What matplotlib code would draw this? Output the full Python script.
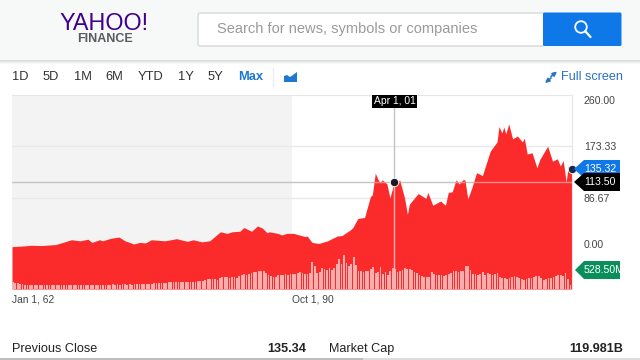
import numpy as np
import matplotlib
matplotlib.use("Agg")
import matplotlib.pyplot as plt
from matplotlib.patches import Rectangle, Polygon, Circle, FancyBboxPatch

plt.rcParams['font.family'] = ['Liberation Sans', 'DejaVu Sans']

# ---- data ----
price_dates = [1962.0,1962.9,1964.0,1965.0,1966.5,1967.4,1968.1,1969.0,1969.8,1970.2,1971.0,1971.3,1972.2,1973.0,1973.6,
 1974.5,1975.1,1975.7,1976.3,1977.7,1978.9,1980.0,1980.6,1981.5,1982.3,1983.4,1984.1,1984.6,1985.4,1985.8,
 1986.6,1987.2,1987.7,1988.2,1988.4,1989.3,1989.7,1990.2,1990.9,1991.1,1992.1,1992.3,1992.8,1993.5,1994.4,
 1995.4,1995.9,1996.2,1996.7,1997.0,1997.5,1998.2,1998.8,1999.0,1999.3,1999.6,1999.8,2000.0,2000.5,2000.8,
 2001.2,2001.4,2001.8,2002.3,2002.6,2002.8,2003.7,2004.5,2004.7,2005.2,2006.0,2006.5,2006.8,2007.2,2007.6,
 2007.9,2008.3,2008.5,2008.8,2009.2,2009.7,2010.3,2011.1,2011.8,2012.0,2012.3,2012.5,2012.7,2013.0,2013.4,
 2013.9,2014.4,2014.6,2014.9,2015.4,2015.9,2016.2,2017.0,2017.5,2018.0,2018.3,2018.6,2018.9,2019.1,2019.5]
prices = [-5,-4,-2.4,-3,-1,4,8,6,9,3,8,6,11,13,6,
 0,3,2,8,6,10,5,8,4,6,23,20,23,24,31,
 24,34,30,21,23,20,17,20,20,19,14,15,3,1,6,
 15,16,20,26,31,48,50,89,92,128,117,112,117,110,87,
 110,107,117,87,56,75,94,86,96,73,81,73,96,97,117,
 110,117,117,85,103,129,124,164.5,181,210,198,209,196,215,187,
 192,181,188,160,162,137,151,173,148,152,140,149,113,139,135]
volume_start = 1962.0
volume_step = 0.25
volumes = [195,190,170,150,135,125,120,118,118,118,
 118,118,118,120,118,118,120,118,118,118,
 118,118,120,118,120,122,118,120,118,120,
 120,122,125,120,125,130,125,130,128,130,
 130,135,130,135,130,135,135,130,135,130,
 135,140,145,140,150,150,155,150,165,170,
 175,180,185,190,200,210,205,205,215,210,
 205,210,205,215,220,220,225,230,240,260,
 280,300,300,290,275,320,360,350,340,330,
 350,340,320,370,400,430,400,450,470,500,
 510,520,530,540,470,420,390,360,350,400,
 420,410,440,420,430,450,430,480,500,470,
 440,450,470,794,680,470,500,620,590,560,
 620,560,620,740,880,740,1000,765,680,740,
 940,705,530,530,500,530,530,590,650,470,
 500,650,440,500,410,530,620,590,500,530,
 560,620,590,590,560,500,470,400,380,350,
 350,360,500,440,410,410,400,380,400,440,
 470,530,530,510,530,530,680,680,560,440,
 440,410,440,500,400,470,440,420,440,470,
 350,320,330,295,330,350,380,350,330,290,
 265,300,320,325,350,370,380,310,265,290,
 320,325,350,380,410,400,380,470,300,118]
y_ticks = [260.00, 173.33, 86.67, 0.00]
y_tick_labels = ['260.00', '173.33', '86.67', '0.00']
x_ticks = [1962.0, 1990.75]
x_tick_labels = ['Jan 1, 62', 'Oct 1, 90']
range_tabs = ['1D', '5D', '1M', '6M', 'YTD', '1Y', '5Y']
cursor_date = 2001.25
cursor_price = 113.50
last_price = 135.32

# ---- style / layout ----
RED = '#fb2b2b'
BLUE = '#0f78e8'
LINK = '#2a72c4'
scale_prices = [-84.8, 0, 86.67, 173.33, 260, 269.4]
scale_levels = [0, 45, 91, 143, 189, 194]
x_left, x_right = 1962.0, 2019.5
vol_top = 5704

fig = plt.figure(figsize=(6.4, 3.6), dpi=100, facecolor='white')
bg = fig.add_axes([0, 0, 1, 1])
bg.set_xlim(0, 640); bg.set_ylim(360, 0); bg.axis('off')

# header
bg.add_patch(Rectangle((0, 0), 640, 60, fc='#f7f8f8', ec='none'))
for y, c in zip([60, 61, 62, 63], ['#d9dbdb', '#e3e5e5', '#eeefef', '#f8f8f8']):
    bg.add_patch(Rectangle((0, y), 640, 1, fc=c, ec='none'))
bg.text(104, 23, 'YAHOO!', color='#400090', fontsize=16.8, ha='center', va='center')
bg.text(105, 39.5, 'FINANCE', color='#5a5a60', fontsize=9, fontweight='bold', ha='center', va='center')
bg.add_patch(FancyBboxPatch((198, 13), 346, 33, boxstyle='round,pad=0,rounding_size=2', fc='white', ec='#d8d8d8', lw=1))
bg.text(217, 28.8, 'Search for news, symbols or companies', color='#9a9a9a', fontsize=10.5, va='center')
bg.add_patch(FancyBboxPatch((543, 12.5), 78.5, 33.5, boxstyle='round,pad=0,rounding_size=1.5', fc=BLUE, ec='none'))
bg.add_patch(Circle((581, 27), 5.8, fc='none', ec='white', lw=1.3))
bg.plot([585.2, 590.5], [31.2, 37], color='white', lw=1.6, solid_capstyle='round')

# range tabs
for label, x in zip(range_tabs, [12, 43, 74, 105, 138, 178, 208]):
    bg.text(x, 77.5, label, color='#333333', fontsize=9.3, va='center')
bg.text(238, 77.5, 'Max', color='#1d78d2', fontsize=9.3, fontweight='bold', va='center')
bg.plot([272.5, 272.5], [68, 86], color='#e8eef4', lw=1)
bg.add_patch(Polygon([(284, 82), (284, 76), (287, 75), (290, 77), (293, 75), (297, 72), (297, 82)], fc='#1d78d2', ec='none'))
bg.text(561, 77.5, 'Full screen', color=LINK, fontsize=9.1, va='center')
bg.annotate('', xy=(557, 71.5), xytext=(551, 76.5), arrowprops=dict(arrowstyle='-|>', color=LINK, lw=1.2, mutation_scale=6, shrinkA=0, shrinkB=0))
bg.annotate('', xy=(545, 83), xytext=(551, 78), arrowprops=dict(arrowstyle='-|>', color=LINK, lw=1.2, mutation_scale=6, shrinkA=0, shrinkB=0))

# footer
bg.text(12, 349, 'Previous Close', color='#222222', fontsize=9.1, va='center')
bg.text(306, 349, '135.34', color='#222222', fontsize=9.1, fontweight='bold', va='center', ha='right')
bg.text(329, 349, 'Market Cap', color='#222222', fontsize=9.1, va='center')
bg.text(623, 349, '119.981B', color='#222222', fontsize=9.1, fontweight='bold', va='center', ha='right')
bg.add_patch(Rectangle((0, 358), 640, 2, fc='#dddddd', ec='none'))
bg.add_patch(Rectangle((0, 358), 363, 2, fc='#bdbdbd', ec='none'))

# chart
ax = fig.add_axes([12/640, (360-289)/360, 560/640, 194/360])
ax.patch.set_alpha(0)
ax.set_yscale('function', functions=(lambda v: np.interp(v, scale_prices, scale_levels),
                                     lambda v: np.interp(v, scale_levels, scale_prices)))
ax.set_xlim(x_left, x_right)
ax.set_ylim(scale_prices[0], scale_prices[-1])
ax.axvspan(x_left, x_ticks[1], color='#f3f3f3', lw=0, zorder=0)
ax.grid(False)
for t in y_ticks[1:3]:
    ax.axhline(t, color='#e9e9e9', lw=1, zorder=1)
area = ax.fill_between(price_dates, prices, scale_prices[0], color=RED, lw=0, zorder=2)
for s in ['left', 'bottom']:
    ax.spines[s].set_visible(False)
for s in ['top', 'right']:
    ax.spines[s].set_color('#e6e6e6')

vol = ax.twinx()
vol.patch.set_alpha(0)
vol.set_ylim(0, vol_top)
vol.set_xlim(x_left, x_right)
vol.axis('off')
vol_x = [volume_start + i * volume_step for i in range(len(volumes))]
vol.bar(vol_x, volumes, width=volume_step * 0.72, color='#f6aeae', lw=0, align='edge', zorder=3)

ax.set_yticks(y_ticks); ax.set_yticklabels(y_tick_labels, color='#444444', fontsize=7.6)
ax.yaxis.tick_right()
ax.minorticks_off()
ax.tick_params(axis='y', length=0, pad=8.6)
ax.set_xticks(x_ticks); ax.set_xticklabels(x_tick_labels, color='#444444', fontsize=7.4, ha='left')
ax.tick_params(axis='x', length=0, pad=4)

# crosshair: grey above the area, pale inside it
ax.axhline(cursor_price, color='#c4c4c4', lw=1, zorder=1.5)
ax.axvline(cursor_date, color='#c4c4c4', lw=1, zorder=1.5)
h = ax.axhline(cursor_price, color='#f98a8a', lw=1, zorder=2.5)
v = ax.axvline(cursor_date, color='#f6b4b4', lw=1, zorder=2.5)
for line in (h, v):
    line.set_clip_path(area.get_paths()[0], ax.transData)
over = fig.add_axes(ax.get_position(), sharex=ax, sharey=ax)
over.patch.set_alpha(0); over.axis('off')
over.plot([cursor_date], [cursor_price], 'o', ms=6, mfc='#1a1a22', mec='white', mew=0.6, clip_on=False)
over.plot([x_right], [last_price], 'o', ms=6, mfc='#1a2a44', mec='white', mew=0.6, clip_on=False)

# tags on top of everything
top = fig.add_axes([0, 0, 1, 1])
top.set_xlim(0, 640); top.set_ylim(360, 0); top.axis('off'); top.patch.set_alpha(0)
top.add_patch(Rectangle((372, 95), 45, 12.5, fc='black', ec='none'))
top.text(394.5, 100.5, 'Apr 1, 01', color='white', fontsize=7.4, ha='center', va='center')
top.add_patch(Polygon([(574, 169), (584, 160), (620, 160), (620, 178), (584, 178)], fc=BLUE, ec='none'))
top.text(584, 169, '135.32', color='white', fontsize=7.6, va='center')
top.add_patch(Polygon([(574, 182), (584, 173), (620, 173), (620, 191), (584, 191)], fc='black', ec='none'))
top.text(584, 182, '113.50', color='white', fontsize=7.6, va='center')
top.add_patch(Polygon([(575, 270), (584, 261), (620, 261), (620, 279), (584, 279)], fc='#0a8f5c', ec='none'))
t = top.text(583.5, 270, '528.50M', color='white', fontsize=7.6, va='center')
t.set_clip_path(Rectangle((575, 261), 45, 18, transform=top.transData))

fig.savefig('out.png', dpi=100)
